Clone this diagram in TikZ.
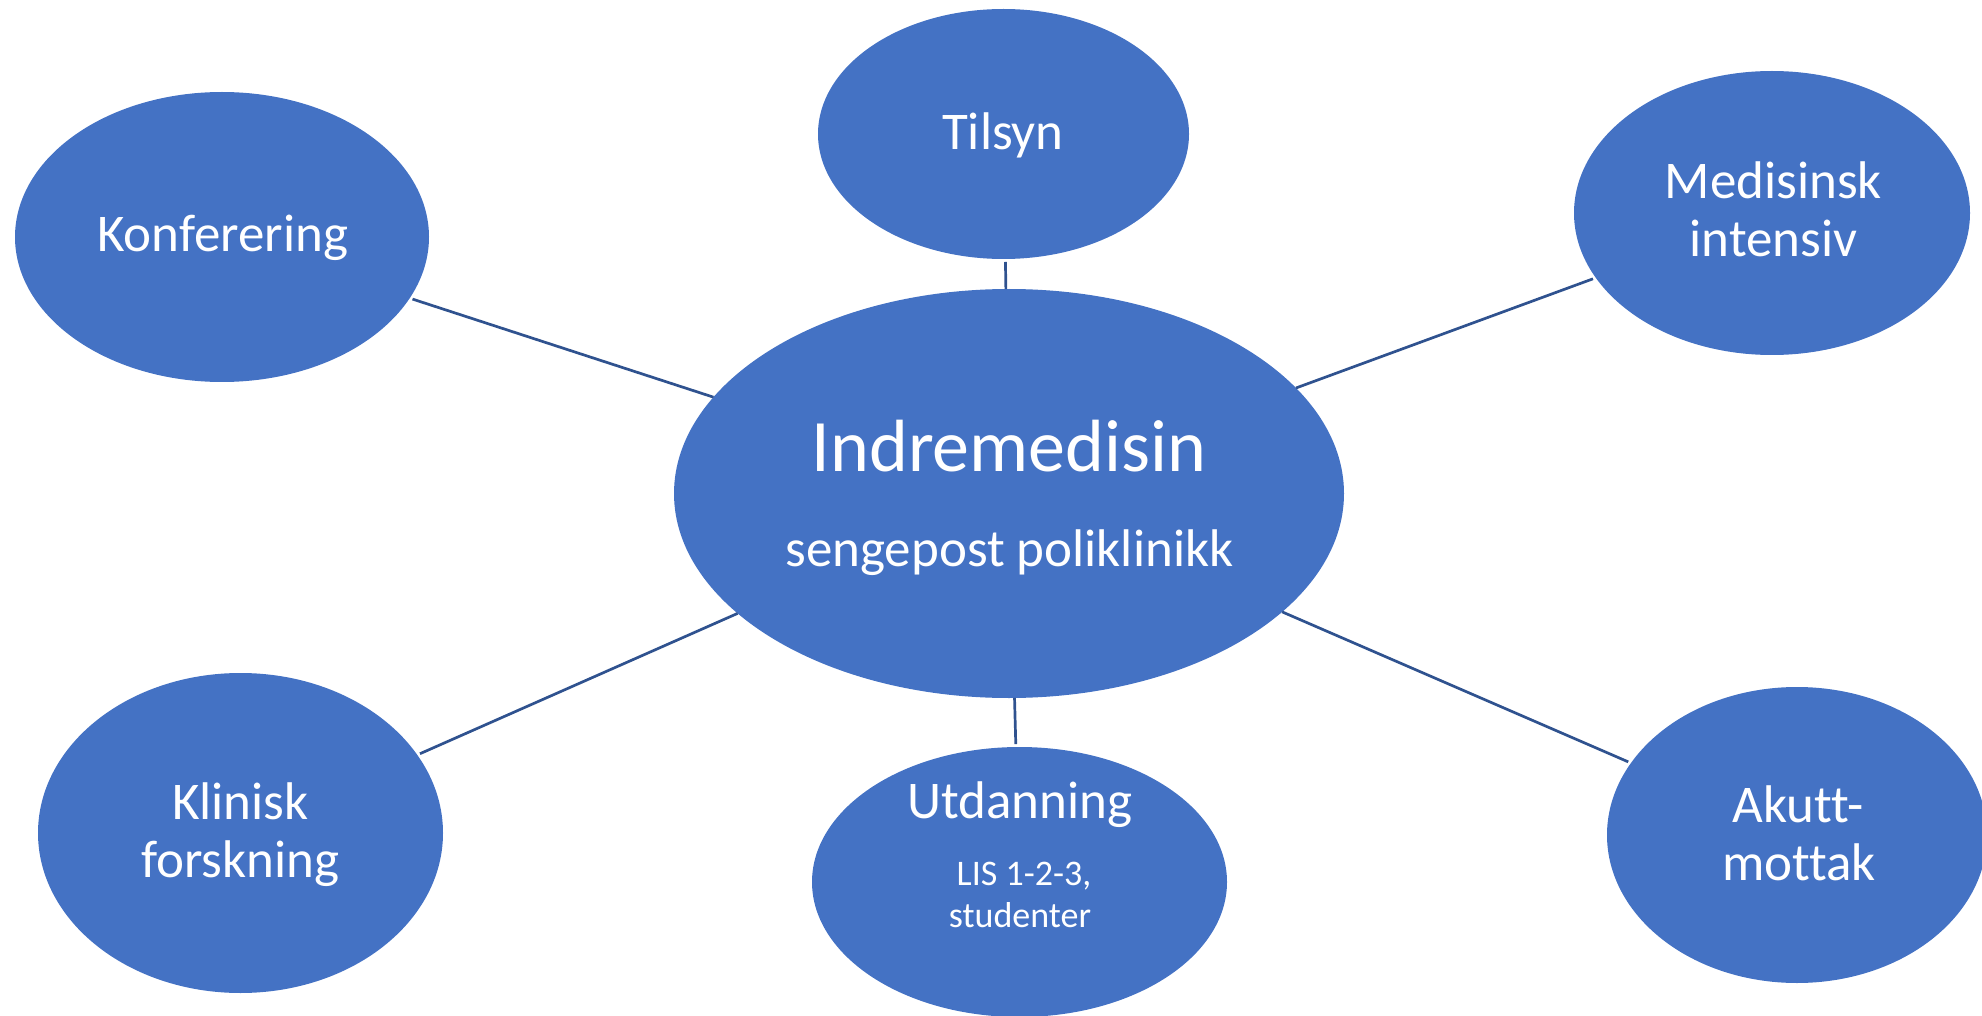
\documentclass[tikz,border=0pt]{standalone}
\usepackage{fontspec}
\setmainfont{Carlito}[Ligatures=NoCommon]
\usetikzlibrary{shapes.geometric}
\definecolor{ofblue}{HTML}{4472C4}
\definecolor{lineblue}{HTML}{2F528F}
\begin{document}
\begin{tikzpicture}[x=1pt,y=-1pt,
  bubble/.style={ellipse,fill=ofblue,inner sep=0pt,outer sep=0pt},
  link/.style={draw=lineblue,line width=2.7pt,shorten >=3pt},
  lbl/.style={text=white,inner sep=0pt,anchor=base,font=\fontsize{53}{58}\selectfont},
  biglbl/.style={lbl,font=\fontsize{74}{82}\selectfont},
  smalllbl/.style={lbl,font=\fontsize{36}{40}\selectfont},
]
\useasboundingbox (0,0) rectangle (1982,1016);
% bubbles
\node[bubble,minimum width=670pt,minimum height=409pt] (c) at (1009,493.5) {};
\node[bubble,minimum width=371pt,minimum height=250pt] (t) at (1003.5,134) {};
\node[bubble,minimum width=414pt,minimum height=290pt] (k) at (222,237) {};
\node[bubble,minimum width=396pt,minimum height=284pt] (m) at (1772,213) {};
\node[bubble,minimum width=380pt,minimum height=296pt] (a) at (1797,835) {};
\node[bubble,minimum width=415pt,minimum height=270pt] (u) at (1019.5,882) {};
\node[bubble,minimum width=405pt,minimum height=320pt] (f) at (240.5,833) {};
% connectors
\draw[link] (c) -- (t);
\draw[link] (c) -- (k);
\draw[link] (c) -- (m);
\draw[link] (c) -- (a);
\draw[link] (c) -- (u);
\draw[link] (c) -- (f);
% labels
\node[biglbl] (c1) at (1009,471) {Indremedisin};
\node[lbl] (c2) at (1009.5,566) {sengepost poliklinikk};
\node[lbl] (t1) at (1003,150) {Tilsyn};
\node[lbl] (k1) at (222.5,252) {Konferering};
\node[lbl] (m1) at (1773.5,199) {Medisinsk};
\node[lbl] (m2) at (1773.5,257) {intensiv};
\node[lbl] (a1) at (1798,822) {Akutt-};
\node[lbl] (a2) at (1799,880) {mottak};
\node[lbl] (f1) at (240.5,819) {Klinisk};
\node[lbl] (f2) at (240.5,877) {forskning};
\node[lbl] (u1) at (1020,818) {Utdanning};
\node[smalllbl] (u2) at (1024,885) {LIS 1-2-3,};
\node[smalllbl] (u3) at (1020,927) {studenter};
\end{tikzpicture}
\end{document}
